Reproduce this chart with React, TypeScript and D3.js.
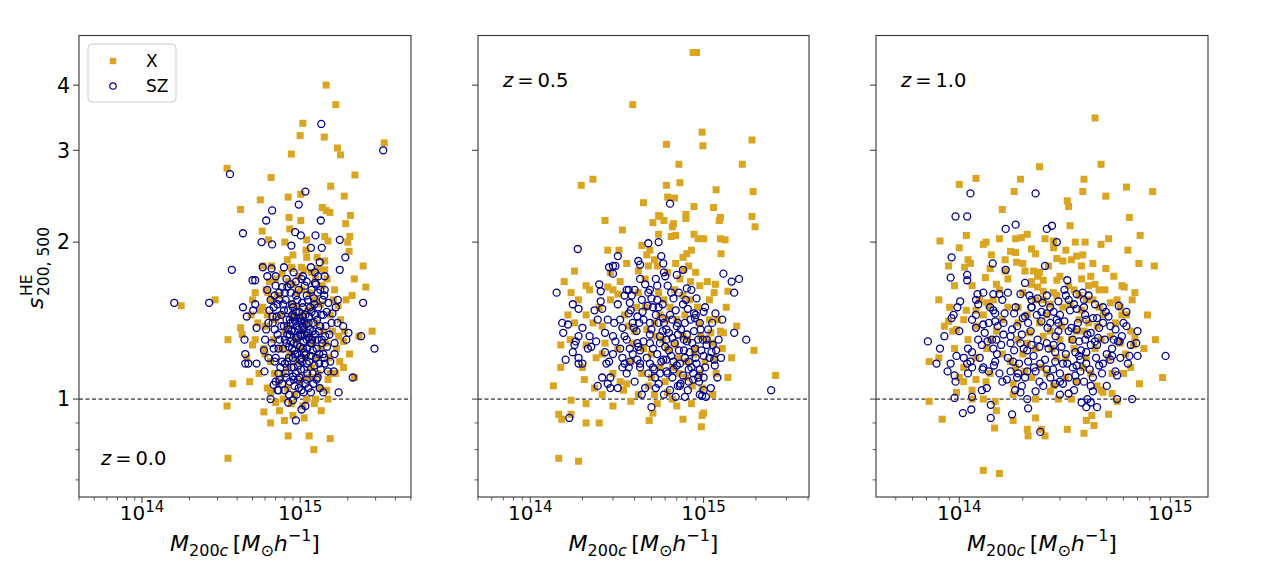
import React from 'react';
import * as d3 from 'd3';

// halo mass in units of 1e14 Msun/h, value = s^HE_{200,500}
type Pt = [number, number];

const xRayZ0: Pt[] = [
  [14.6,4.0],[16.8,3.67],[10.4,3.38],[10.0,3.2],[14.2,3.18],[34,3.1],[17.2,3.03],[18.0,2.94],[8.8,2.95],[3.45,2.77],
  [6.55,2.66],[22.2,2.69],[15.6,2.56],[8.4,2.44],[5.6,2.41],[4.2,2.31],[10.1,2.47],[19,2.45],[13.8,2.33],[14.6,2.3],
  [15.4,2.28],[8.5,2.23],[20.8,2.25],[10.1,2.2],[19.4,2.17],[5.75,2.1],[8.6,2.12],[14.3,2.05],[20.6,2.05],[11,2.02],
  [15,2.01],[6.3,2.02],[8,2.0],[20,2.0],[10.9,1.93],[20.4,1.92],[9,1.89],[8.3,1.85],[11,1.87],[12.8,1.87],
  [14.3,1.84],[5.8,1.8],[6.6,1.8],[25,1.8],[8.8,1.79],[10.2,1.79],[14.3,1.77],[22,1.7],[26,1.64],[5.2,1.6],
  [6.25,1.6],[2.9,1.55],[1.77,1.51],[8.4,1.68],[21.3,1.58],[17.4,1.51],[5.8,1.5],[28.5,1.35],[4.2,1.37],[3.5,1.3],
  [4.3,1.33],[5,1.27],[5.9,1.25],[18.8,1.29],[23.5,1.32],[22,1.1],[17.8,1.18],[18.8,1.15],[3.75,1.07],[4.8,1.08],
  [15,1.09],[12.2,1.1],[14.7,1.04],[6.5,1.03],[3.45,0.97],[5.9,0.945],[6.5,0.9],[7.95,0.91],[9,0.93],[10.6,0.92],
  [12.3,0.98],[8.4,0.85],[11.4,0.85],[15.5,0.84],[12.2,0.8],[3.5,0.77],[7.0,0.985],[7.8,1.0],
  [7.5,1.45],[8.2,1.38],[8.8,1.52],[9.3,1.3],[9.8,1.42],[10.5,1.35],[11.2,1.48],[12,1.28],[8.6,1.22],[9.5,1.18],
  [10.8,1.2],[11.8,1.15],[7.8,1.12],[6.8,1.3],[7.2,1.58],[12.8,1.4],[13.5,1.25],[10.2,1.62],[9,1.66],[11.5,1.6],
  [8.3,1.05],[10,1.08],[6.5,1.18],[12.5,1.55],[14,1.35],[9.6,1.5],[7.6,1.25],[10.8,1.1],[6.2,1.45],[13,1.12],
  [15.5,1.45],[16.5,1.62],[12.5,1.7],[7,1.7],[6.0,1.38],[13.2,1.05],[9.2,1.02],[11,1.0],[6.9,1.12],[15.2,1.2],
  [8.0,1.35],[9.0,1.45],[10.0,1.25],[11.0,1.4],[12.0,1.5],[8.5,1.15],[9.5,1.6],[10.5,1.45],[11.5,1.3],[12.5,1.2],
  [7.0,1.42],[13.5,1.52],[14.5,1.28],[15.5,1.12],[6.6,1.55],[7.3,1.08],[16,1.35],[13.8,1.65],[9.8,1.72],[11.8,1.75],
  [6.0,1.22],[5.4,1.4],[5.0,1.55],[17,1.25],[18,1.42],
  [6.4,1.68],[7.7,1.74],[8.9,1.78],[10.6,1.77],[13,1.78],[14.8,1.7],[16.2,1.55],[17.5,1.32],[16.8,1.12],[15,1.0],
  [13.6,0.95],[12.5,1.0],[10.4,0.97],[8.8,0.98],[7.4,0.95],[6.2,1.05],[5.5,1.12],[5.2,1.3],[5.6,1.48],[6.1,1.62],
  [19.5,1.55],[19,1.35],[20.5,1.22],[4.6,1.2],[4.9,1.45],
];

const szZ0: Pt[] = [
  [13.6,3.37],[33.5,3.0],[3.6,2.7],[10.8,2.5],[9.8,2.36],[6.65,2.3],[6.1,2.2],[13.5,2.2],[4.35,2.08],[9.3,2.09],
  [10.1,2.06],[12.5,2.06],[5.7,2.0],[6.65,1.98],[8.8,1.97],[17.8,2.02],[11.7,1.95],[13.7,1.95],[19.3,1.87],[13.3,1.83],
  [3.7,1.77],[5.8,1.79],[6.6,1.78],[7.9,1.79],[11.7,1.79],[17.8,1.77],[6.2,1.72],[7.0,1.72],[8.2,1.7],[5.0,1.69],
  [5.2,1.69],[10.4,1.72],[13,1.72],[14.3,1.72],[12.4,1.67],[14.3,1.62],[17.3,1.55],[25,1.53],[1.6,1.53],[2.66,1.53],
  [4.35,1.5],[5.2,1.52],[6.9,1.58],[4.6,1.44],[5.05,1.48],[14,1.45],[16,1.46],[18.7,1.38],[20.2,1.34],[19.6,1.3],
  [24.3,1.32],[29.5,1.25],[5.3,1.37],[4.45,1.3],[4.5,1.22],[4.5,1.17],[4.7,1.17],[5.3,1.17],[5.95,1.13],[5.9,1.24],
  [6.1,1.36],[6.7,1.4],[16.5,1.28],[14,1.22],[14.3,1.17],[16.3,1.13],[15,1.13],[21.5,1.1],[17.5,1.03],[11.7,1.03],
  [14,1.03],[13.3,1.05],[6.5,1.0],[7.2,1.04],[8.4,0.985],[9,0.995],[9.5,1.02],[10.2,1.04],[10.2,0.955],[10.8,0.97],
  [9.4,0.91],[7.3,1.04],[6.8,1.065],[7.4,1.09],[8.2,1.1],[9,1.105],[11,1.09],[12.7,1.09],[13.2,1.17],
  [7.2,1.52],[7.6,1.45],[7.9,1.38],[8.1,1.55],[8.4,1.48],[8.6,1.42],[8.8,1.35],[9.0,1.5],[9.2,1.44],[9.4,1.58],
  [9.5,1.38],[9.7,1.32],[9.9,1.47],[10.1,1.41],[10.3,1.53],[10.5,1.36],[10.8,1.45],[11.0,1.3],[11.3,1.4],[11.6,1.5],
  [12.0,1.35],[12.4,1.45],[12.9,1.3],[13.4,1.38],[7.4,1.3],[7.8,1.25],[8.2,1.28],[8.5,1.2],[8.9,1.25],[9.3,1.22],
  [9.6,1.27],[10.0,1.19],[10.4,1.25],[10.9,1.22],[11.4,1.18],[12.0,1.24],[12.6,1.2],[7.0,1.2],[7.5,1.15],[8.0,1.17],
  [9.1,1.15],[10.6,1.14],[11.8,1.28],[8.7,1.6],[9.8,1.62],[11.0,1.58],[12.2,1.56],[13.0,1.5],[6.4,1.48],[6.8,1.25],
  [10.2,1.32],[9.0,1.4],[8.3,1.33],[11.2,1.34],[12.8,1.42],[6.0,1.3],[6.3,1.2],[7.7,1.64],[13.8,1.28],[10.7,1.65],
  [8.1,1.12],[8.3,1.18],[8.5,1.26],[8.6,1.33],[8.7,1.4],[8.9,1.45],[8.2,1.42],[8.4,1.36],[8.0,1.3],[8.8,1.15],
  [9.0,1.2],[9.1,1.28],[9.2,1.35],[9.3,1.41],[9.4,1.47],[9.5,1.31],[9.6,1.22],[9.7,1.16],[9.8,1.36],[9.9,1.43],
  [10.0,1.26],[10.1,1.14],[10.2,1.2],[10.3,1.38],[10.4,1.44],[10.5,1.29],[10.6,1.23],[10.7,1.33],[10.9,1.39],[11.0,1.17],
  [11.1,1.25],[11.3,1.31],[11.4,1.44],[11.5,1.36],[11.7,1.21],[11.9,1.3],[12.1,1.4],[12.3,1.16],[12.5,1.33],[12.7,1.25],
  [8.9,1.52],[9.6,1.55],[10.4,1.5],[11.2,1.55],[9.1,1.09],[10.8,1.07],[9.9,1.1],[12.0,1.12],[8.6,1.08],[13.2,1.22],
  [7.6,1.38],[7.9,1.48],[7.3,1.25],[7.7,1.18],[13.6,1.45],[14.5,1.38],[13.9,1.55],[12.9,1.6],[7.4,1.6],[8.3,1.64],
  [9.4,1.12],[10.0,1.33],[10.6,1.41],[11.8,1.47],[9.2,1.24],[10.3,1.18],[11.6,1.28],[8.7,1.29],[9.8,1.05],[11.1,1.12],
  [6.2,1.62],[6.5,1.55],[6.8,1.5],[7.1,1.44],[6.9,1.36],[7.2,1.33],[6.6,1.28],[6.9,1.18],[7.3,1.12],[7.7,1.07],
  [8.0,1.04],[8.5,1.02],[9.2,1.06],[9.7,1.09],[10.5,1.03],[11.3,1.05],[12.1,1.07],[12.9,1.1],[13.5,1.14],[14.2,1.2],
  [14.8,1.26],[15.3,1.33],[15.8,1.4],[14.7,1.47],[15.1,1.53],[14.2,1.58],[13.4,1.62],[12.6,1.66],[11.8,1.62],[11.0,1.68],
  [10.2,1.7],[9.4,1.68],[8.7,1.66],[8.0,1.6],[7.4,1.55],[7.8,1.52],[12.3,1.52],[13.1,1.35],[13.7,1.3],[14.4,1.32],
  [6.3,1.4],[6.7,1.44],[7.0,1.08],[15.5,1.18],[16.5,1.22],[17.2,1.4],[16.8,1.5],[12.4,1.75],[9.1,1.75],[7.0,1.65],
];

const xRayZ05: Pt[] = [
  [8.7,4.62],[9.1,4.62],[3.9,3.67],[9.8,3.25],[9.9,3.06],[6.1,3.08],[19,3.14],[7.2,2.82],[16.7,2.82],[1.97,2.57],
  [2.3,2.64],[6.1,2.57],[7.3,2.6],[11.8,2.52],[19.3,2.5],[4.5,2.38],[6.2,2.44],[6.8,2.43],[8.8,2.34],[11.4,2.33],
  [2.7,2.2],[5.5,2.25],[5.6,2.24],[7.9,2.26],[7.9,2.22],[12.5,2.23],[12.3,2.2],[19,2.24],[19.8,2.14],[3.4,2.11],
  [5.1,2.18],[5.9,2.2],[6.7,2.17],[6.6,2.14],[5.5,2.07],[6.5,2.05],[6.9,2.06],[8.8,2.07],[9.3,2.03],[10,2.03],
  [12.5,2.03],[13.3,2.02],[2.8,1.93],[3.25,1.93],[4.4,1.97],[4.9,1.93],[4.7,1.89],[7.6,1.87],[8,1.9],[8.5,1.93],
  [12.6,1.9],[4.2,1.76],[4.8,1.8],[5.4,1.8],[7.7,1.77],[1.8,1.76],[1.57,1.68],[1.72,1.6],[2.1,1.65],[11.7,1.66],
  [13.8,1.61],[9.5,1.65],[8.4,1.68],[2.8,1.64],[3.2,1.59],[13,1.34],[11,1.34],[1.5,1.27],[2.1,1.45],[2.1,1.27],
  [19.5,1.24],[26,1.11],[1.36,1.06],[2.05,1.09],[2.35,1.05],[2.6,1.02],[3.45,1.04],[3.6,1.07],[11.3,1.02],[6.6,1.0],
  [1.72,0.995],[3.8,0.99],[2.1,0.98],[1.46,0.935],[1.52,0.915],[1.72,0.935],[2.1,0.9],[2.5,0.9],[4.85,0.91],[5.1,0.94],
  [7.6,0.915],[10,0.94],[9.8,0.93],[9.7,0.885],[1.46,0.77],[1.9,0.76],[5.2,1.02],[6.2,1.03],
  [3.5,1.45],[4,1.35],[4.6,1.5],[5.2,1.4],[5.8,1.3],[6.4,1.5],[7,1.42],[7.6,1.32],[8.3,1.55],[9,1.25],
  [3.2,1.25],[3.8,1.18],[4.4,1.12],[5,1.22],[5.6,1.15],[6.2,1.25],[7.2,1.12],[8,1.18],[9.5,1.12],[10.5,1.3],
  [11.5,1.2],[12,1.42],[2.6,1.38],[2.9,1.55],[4.2,1.6],[5.5,1.6],[6.8,1.62],[7.8,1.45],[9.2,1.5],[10.8,1.55],
  [2.4,1.2],[3.0,1.12],[4.8,1.06],[6.0,1.08],[8.6,1.06],[3.3,1.68],[7.3,1.7],[11.8,1.12],[1.65,1.45],[1.9,1.55],
  [3.7,1.38],[4.5,1.25],[5.3,1.32],[6.1,1.42],[7.1,1.2],[8.1,1.3],[9.4,1.4],[10.2,1.18],[3.3,1.08],[4.1,1.5],
  [5.0,1.1],[5.9,1.55],[6.6,1.15],[7.6,1.58],[8.8,1.22],[9.8,1.05],[11.2,1.28],[12.5,1.35],[2.7,1.28],[2.3,1.4],
  [3.0,1.62],[4.6,1.7],[6.2,1.75],[8.2,1.8],[10.5,1.68],[13.5,1.5],[14.5,1.2],[2.0,1.15],[1.7,1.3],[2.5,1.5],
  [3.9,1.28],[4.7,1.36],[5.6,1.45],[6.9,1.27],[7.9,1.1],[9.6,1.32],[10.8,1.42],[12.8,1.25],[13.8,1.1],[15.5,1.38],
  [2.2,1.62],[2.9,1.75],[3.6,1.82],[5.2,1.85],[6.9,1.82],[9.0,1.75],[11.5,1.6],[4.2,1.02],[5.4,0.98],[7.0,0.97],
  [8.5,0.98],[3.0,0.97],[2.6,1.22],[1.8,1.4],[1.5,1.15],
];

const szZ05: Pt[] = [
  [6.4,2.37],[1.88,1.94],[4.8,1.99],[5.5,2.0],[3.2,1.88],[2.85,1.79],[3.0,1.8],[3.1,1.8],[3.0,1.74],[4.2,1.84],
  [4.3,1.81],[4.3,1.7],[5.7,1.88],[5.85,1.82],[5.9,1.75],[6.0,1.72],[7.0,1.73],[7.6,1.77],[13,1.74],[14.5,1.68],
  [16,1.7],[15,1.6],[1.42,1.6],[2.5,1.66],[2.55,1.61],[3.6,1.62],[3.7,1.62],[4.9,1.62],[5.4,1.65],[8.5,1.62],
  [1.76,1.52],[1.9,1.49],[2.55,1.54],[2.35,1.48],[2.6,1.49],[2.45,1.42],[1.53,1.4],[1.65,1.39],[1.55,1.34],[2.0,1.37],
  [1.83,1.29],[1.8,1.27],[1.9,1.32],[2.2,1.32],[2.4,1.29],[2.25,1.26],[2.15,1.25],[1.76,1.23],[1.6,1.19],[1.9,1.2],
  [1.9,1.17],[2.0,1.17],[2.75,1.17],[2.85,1.18],[2.7,1.23],[3.0,1.22],[3.1,1.29],[3.05,1.4],[2.8,1.42],[3.4,1.37],
  [3.5,1.32],[3.7,1.46],[3.75,1.53],[3.85,1.58],[3.95,1.37],[4.15,1.44],[4.45,1.47],[4.75,1.51],[4.8,1.6],[5.5,1.5],
  [5.4,1.55],[5.8,1.43],[6.4,1.45],[6.7,1.56],[7.6,1.52],[8.1,1.49],[8.8,1.46],[10,1.47],[11.7,1.46],[8.9,1.43],
  [9.5,1.4],[9.6,1.36],[10.4,1.3],[11.3,1.27],[11.8,1.24],[10.4,1.27],[11.1,1.23],[11.5,1.19],[10,1.21],[11.6,1.16],
  [15,1.34],[17.6,1.3],[24.5,1.04],[1.68,0.92],[5,0.965],[5.3,1.05],[6.9,1.01],[7.1,1.06],[7.35,1.07],[8.1,1.04],
  [9.5,1.02],[9.8,1.015],[10.3,1.01],[10,1.04],[8.7,1.09],[9.3,1.1],[10,1.1],[6.6,1.1],[5.6,1.12],[6.1,1.13],
  [2.9,1.1],[2.8,1.07],[2.45,1.06],[2.9,1.05],[3.4,1.15],[3.5,1.17],[3.7,1.15],[3.75,1.18],[4.15,1.19],[4.3,1.17],
  [4.9,1.17],[5.1,1.15],[5.25,1.1],[5.85,1.19],[6.3,1.24],[6.7,1.18],[7.3,1.17],[8.2,1.14],[8.2,1.18],[9.1,1.17],
  [9.5,1.14],[4.15,1.28],[4.5,1.29],[4.9,1.33],[5.6,1.28],[6.1,1.3],[6.6,1.31],[7.1,1.33],[8,1.29],[7.7,1.24],
  [8.6,1.28],[5.1,1.25],[4.3,1.24],[3.75,1.25],[5.5,1.4],[4.9,1.4],[4.25,1.4],[7.0,1.38],[7.8,1.4],[6.1,1.36],
  [3.6,1.3],[3.9,1.22],[4.1,1.35],[4.3,1.15],[4.5,1.42],[4.7,1.2],[4.9,1.28],[5.0,1.36],[5.2,1.14],[5.3,1.45],
  [5.4,1.22],[5.6,1.32],[5.7,1.18],[5.9,1.4],[6.0,1.26],[6.2,1.12],[6.3,1.34],[6.5,1.21],[6.6,1.42],[6.8,1.28],
  [7.0,1.16],[7.2,1.24],[7.4,1.36],[7.6,1.11],[7.8,1.2],[8.0,1.33],[8.3,1.23],[8.5,1.15],[8.8,1.35],[9.0,1.2],
  [9.3,1.3],[9.7,1.24],[10.2,1.15],[10.6,1.36],[4.0,1.08],[4.6,1.05],[5.5,1.07],[6.4,1.04],[7.3,1.06],[8.2,1.08],
  [3.3,1.42],[3.8,1.48],[4.4,1.55],[5.1,1.5],[5.8,1.52],[6.9,1.48],[7.9,1.55],[4.2,1.26],[5.8,1.35],[6.7,1.14],
  [7.7,1.3],[8.7,1.12],[9.9,1.3],[3.4,1.2],[3.9,1.4],[4.8,1.12],[6.1,1.19],[7.1,1.4],[8.4,1.42],[9.4,1.08],
  [3.2,1.52],[3.5,1.58],[4.0,1.62],[4.6,1.66],[5.3,1.7],[6.2,1.65],[7.2,1.6],[8.0,1.63],[9.1,1.56],[10.2,1.5],
  [11.2,1.4],[12.2,1.3],[12.6,1.2],[12.0,1.1],[11.0,1.05],[10.8,1.2],[3.0,1.32],[3.3,1.25],[3.6,1.12],[3.2,1.05],
  [4.4,1.02],[5.9,1.02],[7.8,1.01],[8.9,1.25],[9.0,1.45],[6.5,1.6],[5.0,1.56],[2.7,1.34],[2.6,1.1],[12.8,1.42],
];

const xRayZ1: Pt[] = [
  [4.4,3.46],[2.4,2.79],[4.7,2.82],[1.0,2.58],[1.2,2.65],[1.95,2.64],[3.9,2.64],[1.82,2.5],[3.85,2.5],[3.25,2.4],
  [3.3,2.34],[6.2,2.55],[4.95,2.45],[8.25,2.5],[1.6,2.31],[6.4,2.23],[3.35,2.15],[0.81,2.01],[1.08,2.06],[1.0,1.95],
  [1.3,1.98],[1.34,2.0],[1.55,2.03],[1.85,2.03],[1.97,2.04],[2.1,2.07],[2.55,2.03],[2.8,1.95],[2.8,2.01],[2.2,1.94],
  [3.2,1.93],[3.55,2.0],[3.95,2.0],[4.7,1.98],[5.1,2.03],[7.2,2.06],[6.3,1.93],[7.1,1.82],[8.4,1.8],[0.89,1.8],
  [1.06,1.79],[1.13,1.82],[1.42,1.89],[1.65,1.85],[1.85,1.91],[1.87,1.83],[1.65,1.76],[2.05,1.76],[2.25,1.76],[2.35,1.72],
  [2.5,1.69],[2.9,1.86],[3.4,1.85],[3.85,1.89],[3.8,1.8],[4.95,1.78],[4.2,1.72],[2.9,1.69],[1.5,1.66],[1.33,1.71],
  [4.1,1.65],[4.4,1.66],[5.9,1.65],[6.05,1.64],[2.2,1.66],[2.35,1.64],[2.5,1.61],[1.35,1.53],[1.38,1.51],[1.08,1.48],
  [1.05,1.42],[0.89,1.41],[0.93,1.35],[0.97,1.36],[5.2,1.53],[5.9,1.45],[6.8,1.31],[6.7,1.27],[6.15,1.22],[0.72,1.18],
  [9.2,1.1],[7.15,1.07],[1.05,1.08],[1.2,1.09],[1.34,1.08],[0.97,1.03],[1.15,1.04],[1.15,1.0],[0.72,0.99],[0.83,0.915],
  [1.48,0.99],[1.5,0.95],[1.47,0.88],[1.8,0.91],[2.3,0.92],[2.1,0.875],[2.12,0.85],[2.45,0.875],[2.55,0.85],[3.25,0.875],
  [3.9,0.86],[4.0,0.91],[4.35,0.89],[4.25,0.93],[5.1,0.935],[4.8,1.03],[5.3,1.025],[4.7,1.04],[5.6,0.99],[2.7,1.035],
  [2.95,1.0],[1.3,0.73],[1.55,0.72],[2.05,1.13],[1.8,1.07],
  [1.3,1.45],[1.5,1.35],[1.7,1.5],[1.9,1.3],[2.1,1.45],[2.3,1.25],[2.5,1.55],[2.7,1.35],[2.9,1.2],[3.1,1.5],
  [3.4,1.3],[3.7,1.42],[4.0,1.2],[4.3,1.55],[4.7,1.3],[5.1,1.2],[5.5,1.4],[1.2,1.2],[1.4,1.12],[1.6,1.22],
  [1.85,1.15],[2.2,1.1],[2.6,1.12],[3.2,1.1],[3.6,1.08],[4.2,1.12],[1.1,1.3],[2.0,1.6],[2.8,1.6],[3.5,1.62],
  [4.6,1.5],[6.5,1.35],[6.0,1.12],[0.95,1.25],[1.25,1.55],[2.4,1.4],[3.0,1.3],[3.9,1.35],[5.8,1.28],[0.85,1.38],
  [1.2,1.38],[1.35,1.25],[1.45,1.55],[1.6,1.42],[1.75,1.18],[1.9,1.5],[2.0,1.22],[2.15,1.34],[2.3,1.55],[2.45,1.15],
  [2.6,1.45],[2.75,1.25],[2.9,1.58],[3.05,1.38],[3.2,1.2],[3.35,1.52],[3.5,1.25],[3.7,1.58],[3.85,1.15],[4.1,1.4],
  [4.4,1.25],[4.8,1.45],[5.2,1.32],[5.6,1.55],[6.2,1.45],[1.05,1.15],[0.9,1.5],[1.15,1.65],[1.7,1.7],[2.4,1.75],
  [3.0,1.72],[3.8,1.7],[4.9,1.62],[1.3,1.0],[1.8,1.02],[2.3,1.0],[2.8,1.06],[3.4,1.0],[4.5,1.06],[6.5,1.15],
  [7.5,1.25],[0.8,1.2],[1.0,1.1],[2.1,1.28],[3.6,1.35],
  [1.1,1.85],[1.4,1.78],[1.75,1.92],[2.0,1.82],[2.3,1.9],[2.65,1.8],[3.1,1.84],[3.6,1.88],[4.3,1.82],[5.4,1.72],
  [6.8,1.6],[7.8,1.45],[8.5,1.3],[0.95,1.65],[0.8,1.55],[1.2,1.48],[1.55,1.62],[2.2,1.68],[2.7,1.52],[3.3,1.65],
  [4.0,1.55],[4.6,1.62],[5.8,1.5],[6.6,1.55],[1.4,1.3],[1.9,1.4],[2.5,1.32],[3.8,1.48],[4.5,1.38],[5.3,1.12],
];

const szZ1: Pt[] = [
  [1.13,2.48],[2.3,2.48],[0.96,2.24],[1.09,2.24],[1.66,2.12],[1.85,2.16],[2.6,2.12],[2.75,2.15],[2.9,2.0],[0.92,1.87],
  [1.44,1.82],[2.55,1.8],[0.91,1.71],[1.09,1.73],[1.09,1.69],[1.66,1.77],[2.05,1.67],[3.25,1.69],[3.15,1.62],[1.01,1.54],
  [1.22,1.59],[1.23,1.52],[1.45,1.59],[1.55,1.59],[1.7,1.6],[1.95,1.59],[2.2,1.55],[2.35,1.56],[3.85,1.6],[3.6,1.59],
  [3.3,1.55],[3.9,1.55],[5.7,1.51],[6.2,1.47],[4.95,1.47],[0.94,1.45],[0.92,1.43],[1.2,1.45],[1.45,1.48],[1.48,1.46],
  [1.82,1.46],[2.0,1.43],[2.2,1.5],[2.45,1.47],[2.6,1.46],[2.8,1.47],[3.0,1.45],[3.6,1.49],[3.95,1.45],[4.5,1.43],
  [4.8,1.4],[5.2,1.38],[6.2,1.38],[7.0,1.35],[1.2,1.37],[1.3,1.39],[1.38,1.4],[1.48,1.41],[1.62,1.4],[1.88,1.38],
  [2.12,1.4],[2.45,1.41],[2.7,1.4],[2.95,1.4],[3.3,1.35],[3.6,1.36],[4.2,1.34],[4.4,1.29],[4.55,1.31],[4.5,1.27],
  [5.75,1.29],[5.65,1.29],[0.71,1.29],[0.81,1.25],[0.78,1.17],[0.91,1.17],[0.88,1.13],[0.95,1.11],[0.96,1.08],[0.97,1.21],
  [1.15,1.23],[1.09,1.17],[1.15,1.15],[1.13,1.18],[1.23,1.3],[1.28,1.27],[1.36,1.29],[1.43,1.3],[1.45,1.25],[1.51,1.22],
  [1.48,1.18],[1.38,1.13],[1.29,1.14],[1.62,1.33],[1.75,1.32],[1.95,1.28],[1.82,1.24],[2.02,1.25],[2.2,1.27],[2.25,1.21],
  [2.12,1.18],[2.42,1.17],[2.6,1.28],[2.8,1.27],[2.85,1.23],[3.2,1.22],[3.55,1.23],[3.7,1.29],[4.0,1.23],[4.0,1.17],
  [3.75,1.19],[3.45,1.15],[3.75,1.13],[3.1,1.17],[2.85,1.18],[2.6,1.14],[2.3,1.13],[2.1,1.13],[1.9,1.12],[1.75,1.13],
  [1.68,1.09],[1.84,1.04],[1.98,1.06],[2.3,1.035],[2.85,1.07],[3.0,1.08],[3.1,1.07],[3.3,1.025],[3.6,1.08],[4.2,1.06],
  [4.3,1.035],[4.05,1.0],[4.2,0.985],[3.8,0.985],[4.0,0.965],[4.5,0.965],[4.8,1.17],[5.2,1.19],[5.3,1.21],[5.5,1.13],
  [5.6,1.11],[6.3,1.17],[6.4,1.21],[7.0,1.21],[9.5,1.21],[6.6,1.0],[5.6,1.0],[0.95,1.005],[1.04,0.94],[1.14,0.955],
  [1.28,1.04],[1.15,1.01],[1.41,0.975],[1.41,0.92],[1.78,0.935],[2.1,1.0],[2.12,0.96],[2.42,0.865],
  [1.15,1.42],[1.25,1.2],[1.32,1.34],[1.4,1.5],[1.46,1.16],[1.52,1.38],[1.58,1.27],[1.64,1.46],[1.7,1.2],[1.78,1.36],
  [1.85,1.5],[1.92,1.17],[1.98,1.33],[2.05,1.44],[2.1,1.24],[2.18,1.35],[2.26,1.15],[2.33,1.45],[2.4,1.26],[2.48,1.53],
  [2.55,1.19],[2.62,1.37],[2.7,1.5],[2.78,1.14],[2.86,1.32],[2.95,1.54],[3.05,1.26],[3.15,1.41],[3.25,1.17],[3.35,1.48],
  [3.45,1.3],[3.55,1.11],[3.65,1.4],[3.78,1.24],[3.9,1.5],[4.05,1.33],[4.15,1.14],[4.3,1.43],[4.45,1.2],[4.6,1.37],
  [4.75,1.12],[4.9,1.3],[5.1,1.44],[5.3,1.25],[5.5,1.36],[5.8,1.2],[6.0,1.4],[1.35,1.05],[1.6,1.08],[1.95,1.03],
  [2.5,1.06],[3.0,1.02],[3.5,1.04],[1.1,1.12],[1.2,1.55],[2.15,1.58],[3.2,1.58],[4.4,1.52],[1.75,1.28],[2.35,1.3],
  [2.9,1.42],[3.7,1.21],[4.2,1.27],[1.5,1.3],[2.65,1.25],[3.4,1.37],[4.0,1.42],[1.88,1.1],[5.0,1.06],[2.2,1.5],
  [1.0,1.35],[1.1,1.25],[1.3,1.15],[1.55,1.12],[1.8,1.18],[2.05,1.1],[2.4,1.08],[2.7,1.1],[3.0,1.12],[3.3,1.1],
  [3.6,1.16],[3.9,1.08],[4.3,1.1],[4.6,1.16],[5.0,1.22],[5.4,1.3],[5.9,1.32],[6.5,1.27],[6.9,1.28],[4.8,1.5],
  [1.3,1.6],[1.6,1.55],[2.6,1.58],[3.5,1.52],[4.1,1.58],[1.05,1.2],[0.85,1.32],[0.98,1.5],[2.95,1.35],[3.95,1.3],
];

const yMajorTicks = [1, 2, 3, 4];
const yMinorTicks = [0.7, 0.8, 0.9];
const redshifts = ['0.0', '0.5', '1.0'];
const legendLabels = ['X', 'SZ'];

const GOLD = '#DAA520';
const NAVY = '#00008B';
const FONT = '"DejaVu Sans", Verdana, sans-serif';

const TOP = 35.5;
const BOTTOM = 497;

const panels = [
  { left: 79, right: 411, mass: [0.4, 50.2], xs: xRayZ0, sz: szZ0 },
  { left: 478, right: 809, mass: [0.5, 40.5], xs: xRayZ05, sz: szZ05 },
  { left: 876, right: 1208, mass: [0.403, 15.1], xs: xRayZ1, sz: szZ1 },
];

const y = d3.scaleLog().domain([0.649, 4.98]).range([BOTTOM, TOP]);

const Panel: React.FC<{ idx: number }> = ({ idx }) => {
  const p = panels[idx];
  const x = d3.scaleLog().domain(p.mass).range([p.left, p.right]);
  const xTicks = x.ticks();
  const isMajor = (t: number) => Math.abs(Math.log10(t) - Math.round(Math.log10(t))) < 1e-6;
  const cx = (p.left + p.right) / 2;

  return (
    <g>
      {/* y ticks */}
      {yMajorTicks.map(t => (
        <g key={'ym' + t}>
          <line x1={p.left - 6} x2={p.left} y1={y(t)} y2={y(t)} stroke="#333" strokeWidth={1} />
          {idx === 0 && (
            <text x={p.left - 9} y={y(t)} dy="0.36em" textAnchor="end" fontSize={20.5} fontFamily={FONT}>{t}</text>
          )}
        </g>
      ))}
      {yMinorTicks.map(t => (
        <line key={'yn' + t} x1={p.left - 3.5} x2={p.left} y1={y(t)} y2={y(t)} stroke="#333" strokeWidth={0.8} />
      ))}
      {/* x ticks */}
      {xTicks.map((t, i) => {
        const major = isMajor(t);
        return (
          <g key={'xt' + i}>
            <line x1={x(t)} x2={x(t)} y1={BOTTOM} y2={BOTTOM + (major ? 6 : 3.5)} stroke="#333" strokeWidth={major ? 1 : 0.8} />
            {major && (
              <text x={x(t)} y={520} textAnchor="middle" fontSize={20} fontFamily={FONT}>
                10<tspan dy={-8} fontSize={15}>{14 + Math.round(Math.log10(t))}</tspan>
              </text>
            )}
          </g>
        );
      })}

      {/* reference line at s = 1 */}
      <line x1={p.left} x2={p.right} y1={y(1)} y2={y(1)} stroke="#000" strokeWidth={1} strokeDasharray="4,2.5" />

      {/* data */}
      {p.xs.map((d, i) => (
        <rect key={'x' + i} x={x(d[0]) - 3.5} y={y(d[1]) - 3.5} width={7} height={7} fill={GOLD} />
      ))}
      {p.sz.map((d, i) => (
        <circle key={'s' + i} cx={x(d[0])} cy={y(d[1])} r={3.5} fill="none" stroke={NAVY} strokeWidth={1.3} />
      ))}

      {/* frame */}
      <rect x={p.left} y={TOP} width={p.right - p.left} height={BOTTOM - TOP} fill="none" stroke="#333" strokeWidth={1.1} />

      {/* redshift label */}
      <text
        x={idx === 0 ? p.left + 22 : p.left + 25}
        y={idx === 0 ? 465 : 87}
        fontSize={19.5}
        fontFamily={FONT}
      >
        <tspan fontStyle="italic">z</tspan>{'\u2009=\u2009' + redshifts[idx]}
      </text>

      {/* x label */}
      <text x={cx} y={551} textAnchor="middle" fontSize={22} fontFamily={FONT}>
        <tspan fontStyle="italic">M</tspan>
        <tspan fontSize={16} dy={5}>200</tspan>
        <tspan fontSize={16} fontStyle="italic">c</tspan>
        <tspan dy={-5}>{'\u2009['}</tspan>
        <tspan fontStyle="italic">M</tspan>
        <tspan fontSize={16} dy={5}>⊙</tspan>
        <tspan dy={-5} fontStyle="italic">h</tspan>
        <tspan fontSize={16} dy={-10}>−1</tspan>
        <tspan dy={10}>]</tspan>
      </text>
    </g>
  );
};

const App: React.FC = () => {
  return (
    <svg width={1262} height={563} style={{ position: 'absolute', left: 0, top: 0, background: '#fff' }}>
      {panels.map((_, i) => <Panel key={i} idx={i} />)}

      {/* y label */}
      <g transform="translate(43,267) rotate(-90)" fontFamily={FONT}>
        <text x={-42} y={0} fontSize={22} fontStyle="italic">s</text>
        <text x={-29} y={-11} fontSize={15.5}>HE</text>
        <text x={-29} y={6} fontSize={15.5}>200, 500</text>
      </g>

      {/* legend */}
      <g fontFamily={FONT}>
        <rect x={88} y={44} width={88} height={58} rx={4} fill="#fff" fillOpacity={0.8} stroke="#ccc" strokeWidth={1} />
        <rect x={113 - 3.2} y={61 - 3.2} width={6.4} height={6.4} fill={GOLD} />
        <text x={146} y={61} dy="0.36em" fontSize={17}>{legendLabels[0]}</text>
        <circle cx={113} cy={86} r={3.2} fill="none" stroke={NAVY} strokeWidth={1.2} />
        <text x={146} y={86} dy="0.36em" fontSize={17}>{legendLabels[1]}</text>
      </g>
    </svg>
  );
};

export default App;
